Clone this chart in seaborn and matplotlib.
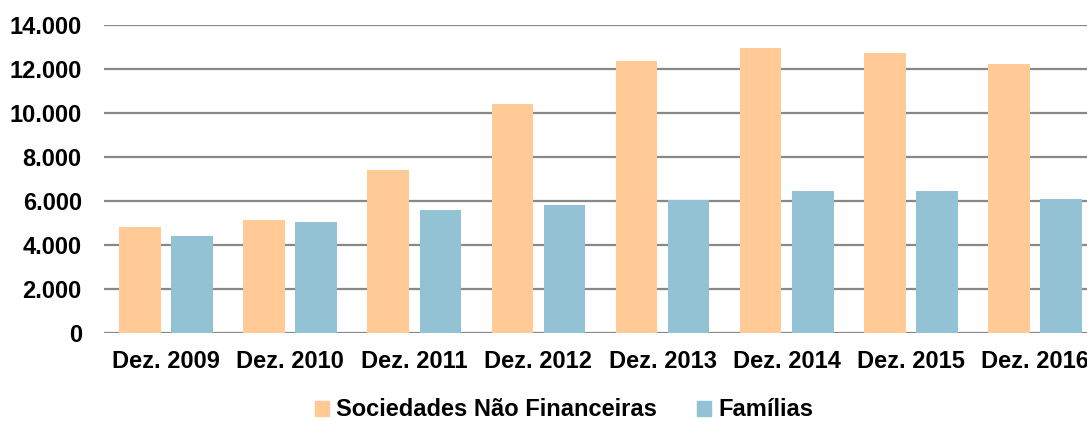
import pandas as pd
import matplotlib.pyplot as plt
import seaborn as sns
from matplotlib.ticker import FuncFormatter

# Data
periods = ['Dez. 2009', 'Dez. 2010', 'Dez. 2011', 'Dez. 2012',
           'Dez. 2013', 'Dez. 2014', 'Dez. 2015', 'Dez. 2016']
snf = [4800, 5130, 7400, 10400, 12350, 12950, 12750, 12250]
familias = [4400, 5050, 5600, 5800, 6050, 6450, 6450, 6100]
series_names = ['Sociedades Não Financeiras', 'Famílias']
colors = ['#FFCA96', '#93C2D4']

df = pd.DataFrame({
    'periodo': periods * 2,
    'valor': snf + familias,
    'serie': [series_names[0]] * len(periods) + [series_names[1]] * len(periods),
})

sns.set_style('white')
plt.rcParams['font.family'] = ['Liberation Sans', 'DejaVu Sans']
plt.rcParams['font.weight'] = 'bold'
plt.rcParams['text.color'] = 'black'
plt.rcParams['xtick.color'] = 'black'
plt.rcParams['ytick.color'] = 'black'

fig = plt.figure(figsize=(10.87, 4.21), dpi=100)
ax = fig.add_axes([0.0957, 0.209, 0.9135, 0.7316])

sns.barplot(data=df, x='periodo', y='valor', hue='serie', palette=colors,
            saturation=1, width=0.84, gap=0.2, ax=ax, legend=False, edgecolor='none')

ax.set_ylim(0, 14000)
ax.set_yticks(range(0, 14001, 2000))
ax.yaxis.set_major_formatter(FuncFormatter(lambda v, p: f'{int(v):,}'.replace(',', '.')))
ax.grid(axis='y', color='#888888', linewidth=1.6)
ax.set_axisbelow(True)
for s in ax.spines.values():
    s.set_visible(False)
ax.set_xlabel('')
ax.set_ylabel('')
ax.tick_params(axis='y', length=0, pad=16, labelsize=17, labelcolor='black')
ax.tick_params(axis='x', length=0, pad=12, labelsize=17, labelcolor='black')
for lab in ax.get_xticklabels() + ax.get_yticklabels():
    lab.set_fontweight('bold')

handles = [plt.Rectangle((0, 0), 1, 1, color=c) for c in colors]
fig.legend(handles, series_names, loc='center', bbox_to_anchor=(564 / 1087, 1 - 410 / 421),
           ncol=2, frameon=False, handlelength=0.6, handleheight=0.6, handletextpad=0.3,
           columnspacing=1.7, prop={'weight': 'bold', 'size': 17})

fig.savefig('out.png', dpi=100)
